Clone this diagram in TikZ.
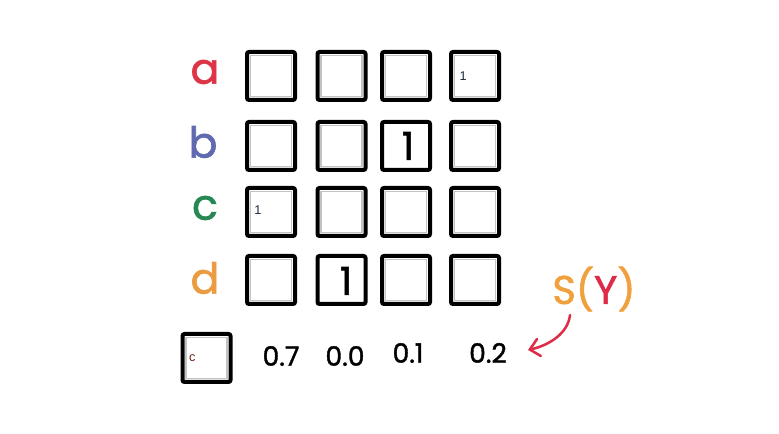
\documentclass[tikz,border=0pt]{standalone}
\usepackage{fontspec}
\newfontfamily\handfont[FakeBold=1.4]{Poppins}
\newfontfamily\plainfont{Liberation Sans}
\usetikzlibrary{arrows.meta}

\tikzset{
  cell/.style={draw=black, line width=3pt, rounded corners=1.5pt, minimum size=36pt, inner sep=0pt, outer sep=0pt},
  inner frame/.style={draw={rgb, 255:red, 195; green, 195; blue, 195}, line width=0.9pt},
  rowlabel/.style={font=\handfont\fontsize{32}{32}\selectfont, inner sep=0.75pt},
  hand/.style={font=\handfont\fontsize{20}{20}\selectfont, inner sep=0.75pt},
  bigone/.style={font=\handfont\fontsize{29}{29}\selectfont, inner sep=0.75pt},
  tiny/.style={font=\plainfont\fontsize{9.5}{9.5}\selectfont, inner sep=0.75pt, text={rgb, 255:red, 30; green, 40; blue, 60}},
}

\begin{document}
\begin{tikzpicture}[x=0.75pt,y=0.75pt,yscale=-1,xscale=1]
        \useasboundingbox (0,0) rectangle (779,434);

        %Shape: Grid of boxes
        \foreach \r/\y in {a/76,b/146,c/212,d/280}
          \foreach \c/\x in {1/271,2/341.5,3/406,4/475}
            \node [cell] (\r\c) at (\x,\y) {};
        %Shape: Box under the labels
        \node [cell] (pick) at (206.5,358) {};
        %Shape: Grey inner frames
        \foreach \n in {a1,a2,a3,a4,b1,b2,b4,c1,c2,c3,c4,d1,d3,d4,pick}
          \draw [inner frame] ([shift={(2.6pt,2.6pt)}]\n.north west) rectangle ([shift={(-2.6pt,-2.6pt)}]\n.south east);

        % Text Node
        \node [rowlabel, text={rgb, 255:red, 222; green, 52; blue, 72 }] (la) at (205,72) {a};
        % Text Node
        \node [rowlabel, text={rgb, 255:red, 96; green, 106; blue, 176 }] (lb) at (203,142) {b};
        % Text Node
        \node [rowlabel, text={rgb, 255:red, 38; green, 136; blue, 82 }] (lc) at (205,208) {c};
        % Text Node
        \node [rowlabel, text={rgb, 255:red, 236; green, 156; blue, 64 }] (ld) at (205,278) {d};

        % Text Node
        \node [tiny, anchor=west] (one a) at (a4.west) [xshift=5.5pt] {1};
        % Text Node
        \node [tiny, anchor=west] (one c) at (c1.west) [xshift=4.5pt, yshift=1.5pt] {1};
        % Text Node
        \node [tiny, anchor=west, text={rgb, 255:red, 110; green, 40; blue, 20 }] (pick c) at (pick.west) [xshift=4pt] {c};
        % Text Node
        \node [bigone] (one b) at (408,146) {1};
        % Text Node
        \node [bigone] (one d) at (346,281) {1};

        % Text Node
        \node [hand] (p1) at (281,356) {0.7};
        % Text Node
        \node [hand] (p2) at (345,356) {0.0};
        % Text Node
        \node [hand] (p3) at (408,353) {0.1};
        % Text Node
        \node [hand] (p4) at (488,353) {0.2};

        % Text Node
        \node [font=\handfont\fontsize{30}{30}\selectfont, inner sep=0.75pt] (sy) at (594,289)
          {\textcolor[RGB]{240,160,60}{S(}\textcolor[RGB]{222,44,72}{Y}\textcolor[RGB]{240,160,60}{)}};

        %Curve Lines
        \coordinate (arrow from) at (570,315);
        \coordinate (arrow to) at (528,350);
        \draw [color={rgb, 255:red, 222; green, 44; blue, 72 }, line width=1.9pt, line cap=round, -{Straight Barb[length=7pt,width=13pt,line cap=round]}]
          (arrow from) .. controls (568,333) and (550,345) .. (arrow to);

\end{tikzpicture}
\end{document}
